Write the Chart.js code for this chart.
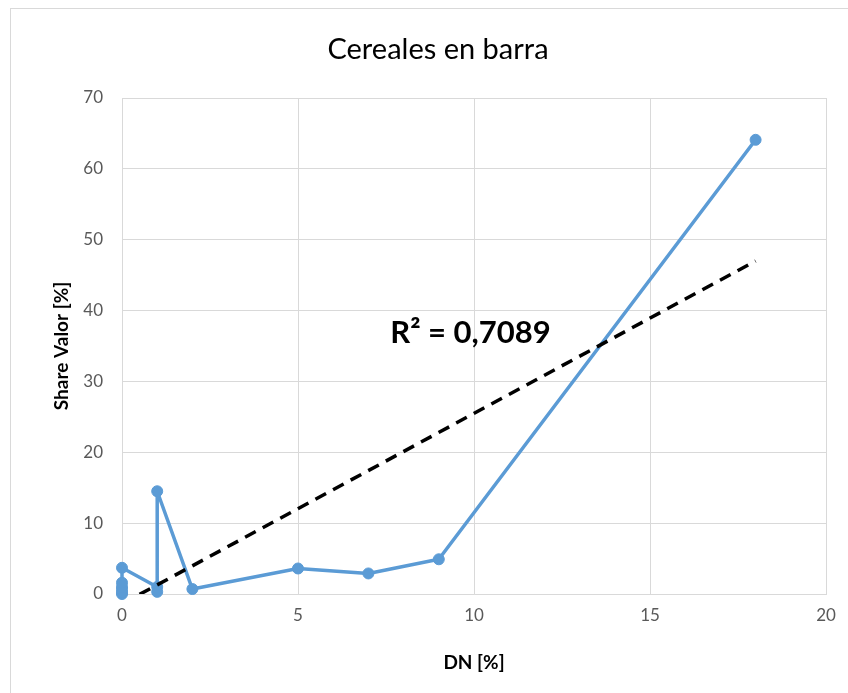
<!DOCTYPE html>
<html>
<head>
<meta charset="utf-8">
<script src="https://cdn.jsdelivr.net/npm/chart.js@4.4.0/dist/chart.umd.min.js"></script>
<style>
  html, body { margin: 0; padding: 0; background: #fff; }
  #wrap { width: 848px; height: 693px; position: relative; }
</style>
</head>
<body>
<div id="wrap"><canvas id="c" width="848" height="693"></canvas></div>
<script>
// Share Valor vs DN, in data order (Excel scatter with lines)
var dnValues = [0, 0, 0, 0, 0, 0, 1, 1, 1, 2, 5, 7, 9, 18];
var shareValues = [0, 0.2, 0.6, 1.0, 1.6, 3.7, 1.0, 0.3, 14.5, 0.7, 3.6, 2.9, 4.9, 64.1];

// linear trend line, end points
var trendX = [0, 18];
var trendY = [-1.4, 47.0];
var trendLabel = 'R\u00b2 = 0,7089';
var trendLabelAt = { x: 9.9, y: 36.8 };

var xTicks = [0, 5, 10, 15, 20];
var yTicks = [0, 10, 20, 30, 40, 50, 60, 70];

var FONT = 'Lato, "Open Sans", sans-serif';

function toPoints(xs, ys) {
  return xs.map(function(x, i) { return { x: x, y: ys[i] }; });
}

var frame = {
  id: 'frame',
  beforeDraw: function(chart) {
    var ctx = chart.ctx;
    ctx.save();
    ctx.strokeStyle = '#d9d9d9';
    ctx.lineWidth = 1;
    ctx.strokeRect(10.5, 8.5, 860, 700);
    ctx.restore();
  }
};

var r2Label = {
  id: 'r2Label',
  afterDatasetsDraw: function(chart) {
    var ctx = chart.ctx;
    var x = chart.scales.x.getPixelForValue(trendLabelAt.x);
    var y = chart.scales.y.getPixelForValue(trendLabelAt.y);
    ctx.save();
    ctx.font = 'bold 31px ' + FONT;
    ctx.fillStyle = '#000';
    ctx.textAlign = 'center';
    ctx.textBaseline = 'middle';
    ctx.fillText(trendLabel, x, y);
    ctx.restore();
  }
};

new Chart(document.getElementById('c').getContext('2d'), {
  type: 'scatter',
  data: {
    datasets: [
      {
        label: 'Share Valor',
        data: toPoints(dnValues, shareValues),
        showLine: true,
        clip: false,
        borderColor: '#5b9bd5',
        backgroundColor: '#5b9bd5',
        borderWidth: 3.5,
        borderJoinStyle: 'round',
        borderCapStyle: 'round',
        pointRadius: 5.5,
        pointBorderWidth: 1,
        pointHoverRadius: 5.5,
        order: 2
      },
      {
        label: 'Lineal',
        data: toPoints(trendX, trendY),
        showLine: true,
        borderColor: '#000',
        borderWidth: 3.5,
        borderDash: [12, 8],
        pointRadius: 0,
        order: 1
      }
    ]
  },
  options: {
    responsive: false,
    animation: false,
    layout: { padding: { left: 50, right: 22, top: 0, bottom: 0 } },
    plugins: {
      legend: { display: false },
      tooltip: { enabled: false },
      title: {
        display: true,
        text: 'Cereales en barra',
        color: '#000',
        font: { family: FONT, size: 29, weight: 'normal', lineHeight: 1.2 },
        padding: { top: 32, bottom: 31.2 }
      }
    },
    scales: {
      x: {
        type: 'linear',
        min: 0,
        max: 20,
        afterFit: function(s) { s.height = 99; },
        afterBuildTicks: function(s) { s.ticks = xTicks.map(function(v) { return { value: v }; }); },
        grid: { color: '#d9d9d9', lineWidth: 1, drawTicks: false },
        border: { color: '#d9d9d9' },
        ticks: { color: '#595959', font: { family: FONT, size: 17 }, padding: 11, maxRotation: 0 },
        title: {
          display: true,
          text: 'DN [%]',
          color: '#000',
          font: { family: FONT, size: 19, weight: 'bold', lineHeight: 1.2 },
          padding: { top: 0, bottom: 18.6 }
        }
      },
      y: {
        type: 'linear',
        min: 0,
        max: 70,
        afterFit: function(s) { s.width = 72; },
        afterBuildTicks: function(s) { s.ticks = yTicks.map(function(v) { return { value: v }; }); },
        grid: { color: '#d9d9d9', lineWidth: 1, drawTicks: false },
        border: { color: '#d9d9d9' },
        ticks: { color: '#595959', font: { family: FONT, size: 17 }, padding: 19 },
        title: {
          display: true,
          text: 'Share Valor [%]',
          color: '#000',
          font: { family: FONT, size: 19, weight: 'bold', lineHeight: 1.2 },
          padding: { top: 0.6, bottom: 0 }
        }
      }
    }
  },
  plugins: [frame, r2Label]
});
</script>
</body>
</html>
